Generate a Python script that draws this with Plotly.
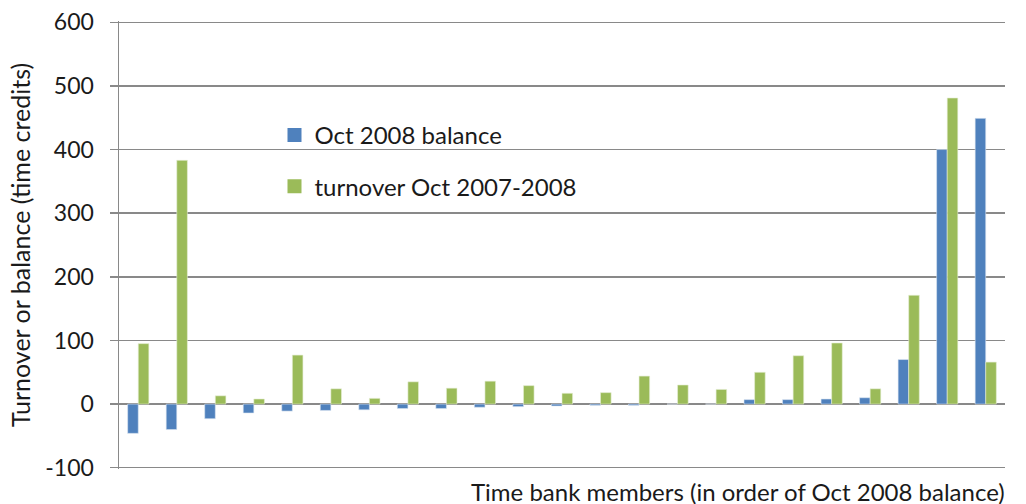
import plotly.graph_objects as go

members = list(range(1, 24))
balance = [-46, -40, -23, -14, -11, -10, -9, -7, -7, -5, -4, -3, -2, -2, 0, 0, 7, 7, 8, 10, 70, 400, 449]
turnover = [95, 383, 13, 8, 77, 24, 9, 35, 25, 36, 29, 17, 18, 44, 30, 23, 50, 76, 96, 24, 171, 481, 66]
y_ticks = [-100, 0, 100, 200, 300, 400, 500, 600]
y_labels = ["-100", "0", "100", "200", "300", "400", "500", "600"]

font_family = "Lato, Noto Sans, sans-serif"
grid_col = "#898989"
blue = "#4F81BD"
green = "#9BBB59"

fig = go.Figure()
fig.add_trace(go.Bar(x=members, y=balance, name="Oct 2008 balance", showlegend=False,
                     marker=dict(color=blue, line=dict(color="#dbe5f1", width=0.6))))
fig.add_trace(go.Bar(x=members, y=turnover, name="turnover Oct 2007-2008", showlegend=False,
                     marker=dict(color=green, line=dict(color="#e6eed5", width=0.6))))

# legend entries with larger square swatches
for name, col, grp in [("Oct 2008 balance", blue, "a"), ("turnover Oct 2007-2008", green, "b")]:
    fig.add_trace(go.Scatter(x=[None], y=[None], mode="markers", name=name, legendgroup=grp,
                             marker=dict(symbol="square", size=14, color=col)))

fig.update_layout(
    width=1026, height=504,
    margin=dict(l=119, r=21, t=21, b=35),
    plot_bgcolor="white", paper_bgcolor="white",
    font=dict(family=font_family, size=24, color="#1a1a1a"),
    barmode="group", bargap=0.45, bargroupgap=0,
    showlegend=True,
    legend=dict(x=0.1755, y=0.795, xanchor="left", yanchor="top",
                bgcolor="rgba(0,0,0,0)", font=dict(size=24),
                traceorder="grouped", tracegroupgap=17, itemwidth=30),
)

fig.update_xaxes(range=[0.5, 23.5], showticklabels=False, ticks="",
                 showgrid=False, zeroline=False, showline=False, automargin=False)
# small padding so the -100 and 600 grid lines are not dropped at the plot edges
fig.update_yaxes(range=[-102, 602], tickvals=y_ticks, ticktext=y_labels,
                 showgrid=True, gridcolor=grid_col, gridwidth=1.5,
                 zeroline=True, zerolinecolor=grid_col, zerolinewidth=1.5,
                 showline=True, linecolor=grid_col, linewidth=1.5,
                 ticks="outside", ticklen=8, tickcolor=grid_col, tickwidth=1.5,
                 ticklabelstandoff=11, automargin=False, tickfont=dict(size=23),
                 title=dict(text="Turnover or balance (time credits)", standoff=7, font=dict(size=25)))

fig.add_annotation(text="Time bank members (in order of Oct 2008 balance)",
                   xref="paper", yref="paper", x=1.0, y=0, xanchor="right", yanchor="top",
                   xshift=2, yshift=-6, showarrow=False, font=dict(size=24))

# drop the browser's default body margin so the figure fills the window
fig.write_html("out.html", config={"staticPlot": True, "displayModeBar": False},
               post_script="document.body.style.margin='0';")
